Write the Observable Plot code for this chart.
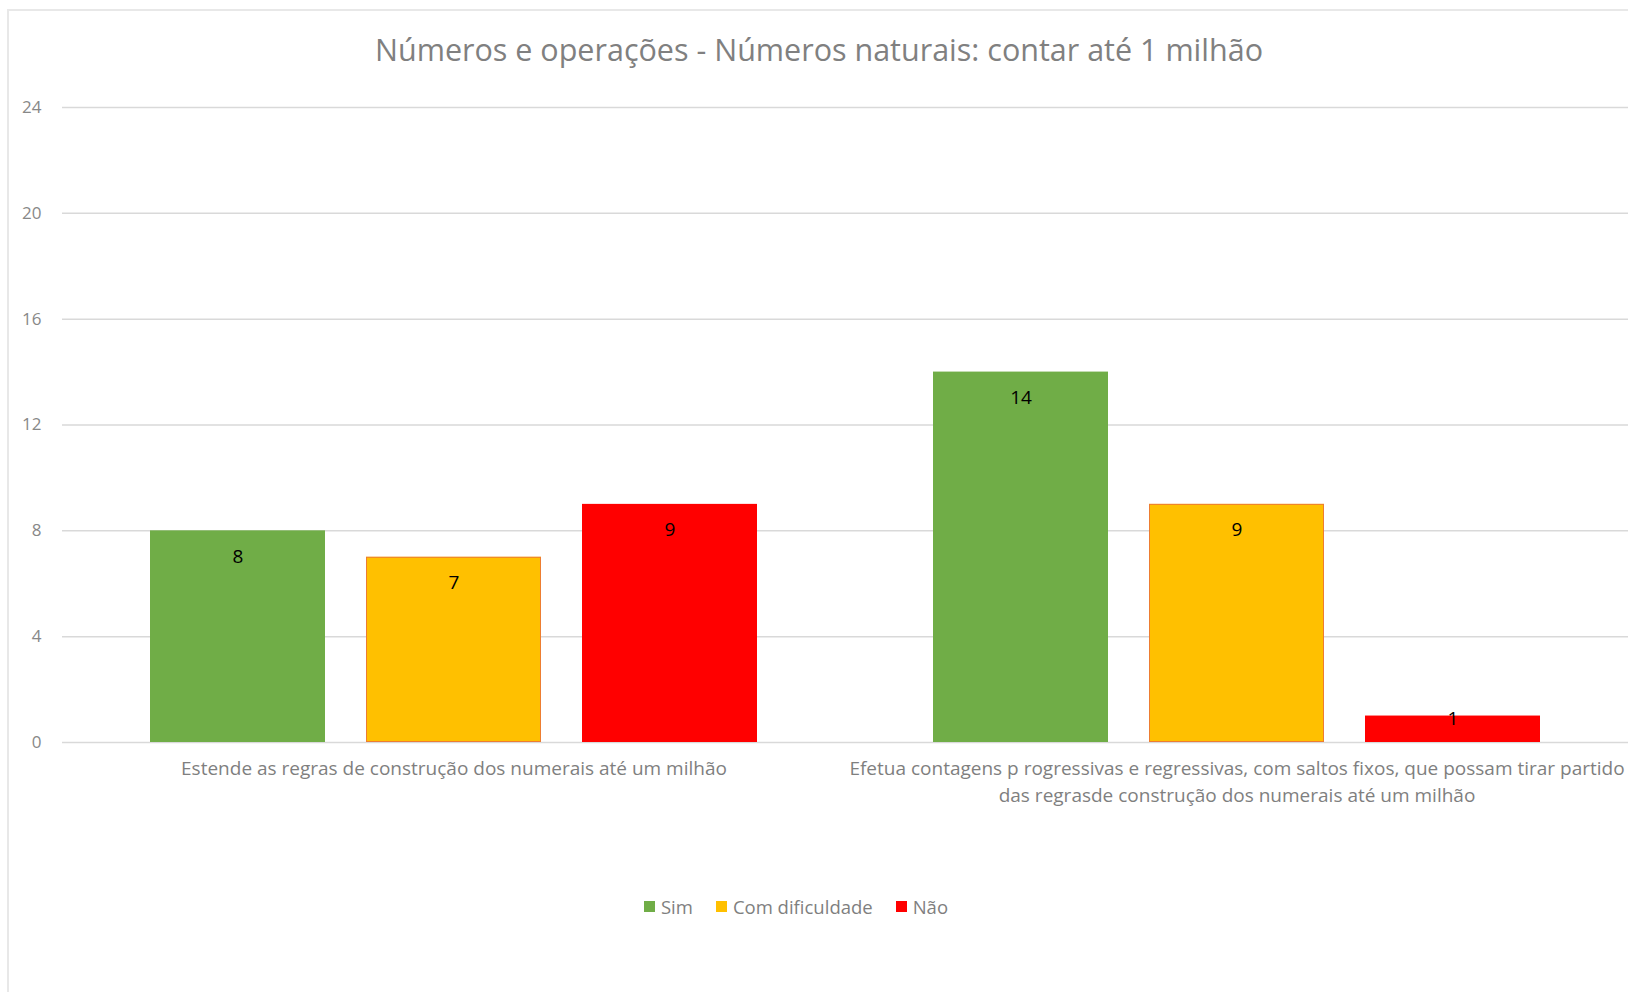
<!DOCTYPE html>
<html>
<head>
<meta charset="utf-8">
<script src="https://cdn.jsdelivr.net/npm/d3@7"></script>
<script src="https://cdn.jsdelivr.net/npm/@observablehq/plot@0.6"></script>
<style>
  html, body { margin: 0; padding: 0; background: #fff; overflow: hidden; }
  body { width: 1628px; height: 992px; position: relative; font-family: "Open Sans", sans-serif; }
  #frame { position: absolute; left: 7px; top: 9px; width: 1700px; height: 1100px; border: 2px solid #e8e8e8; box-sizing: border-box; }
  #title { position: absolute; left: 0; top: 0; width: 1638px; height: 98px; line-height: 98px; text-align: center; font-size: 30.5px; color: #808080; }
  #chart { position: absolute; left: 0; top: 80px; }
  #legend { position: absolute; left: 0; top: 896px; width: 1592px; height: 20px; display: flex; justify-content: center; align-items: center; font-size: 18.5px; color: #7f7f7f; }
  #legend .item { display: flex; align-items: center; margin: 0 11.5px; }
  #legend .sw { width: 11px; height: 11px; margin-right: 6px; }
</style>
</head>
<body>
<div id="frame"></div>
<div id="title">Números e operações - Números naturais: contar até 1 milhão</div>
<div id="chart"></div>
<div id="legend"></div>
<script>
const categories = [
  "Estende as regras de construção dos numerais até um milhão",
  "Efetua contagens p rogressivas e regressivas, com saltos fixos, que possam tirar partido das regrasde construção dos numerais até um milhão"
];
const categoryLabels = [
  "Estende as regras de construção dos numerais até um milhão",
  "Efetua contagens p rogressivas e regressivas, com saltos fixos, que possam tirar partido\ndas regrasde construção dos numerais até um milhão"
];
const seriesNames = ["Sim", "Com dificuldade", "Não"];
const seriesColors = ["#70AD47", "#FFC000", "#FF0000"];
const sim = [8, 14];
const comDificuldade = [7, 9];
const nao = [9, 1];
const yTicks = [0, 4, 8, 12, 16, 20, 24];

const seriesValues = [sim, comDificuldade, nao];
const rows = [];
categories.forEach((c, i) => {
  seriesNames.forEach((s, j) => rows.push({cat: c, series: s, value: seriesValues[j][i]}));
});

const plot = Plot.plot({
  width: 1628,
  height: 752,
  marginLeft: 62,
  marginRight: 0,
  marginTop: 27,
  marginBottom: 90,
  style: {fontFamily: "Open Sans, sans-serif", background: "transparent", overflow: "visible"},
  fx: {domain: categories, padding: 0},
  x: {domain: seriesNames, paddingInner: 0.191, paddingOuter: 0.4, axis: null},
  y: {domain: [0, 24]},
  color: {domain: seriesNames, range: seriesColors},
  marks: [
    Plot.gridY(yTicks, {stroke: "#d9d9d9", strokeOpacity: 1, strokeWidth: 1.5}),
    Plot.axisY(yTicks, {tickSize: 0, tickPadding: 21, fontSize: 17, fill: "#888", label: null}),
    Plot.axisFx({anchor: "bottom", tickSize: 0, tickPadding: 13, fontSize: 19, fill: "#7f7f7f",
      lineHeight: 1.42, label: null,
      tickFormat: d => categoryLabels[categories.indexOf(d)]}),
    Plot.barY(rows, {fx: "cat", x: "series", y: "value", fill: "series"}),
    Plot.barY(rows.filter(d => d.series === "Com dificuldade"),
      {fx: "cat", x: "series", y: "value", fill: "none", stroke: "#ED7D31", strokeWidth: 1, inset: 0.5}),
    Plot.text(rows.filter(d => d.value >= 2),
      {fx: "cat", x: "series", y: "value", text: d => String(d.value), dy: 26, fontSize: 19, fill: "#000"}),
    Plot.text(rows.filter(d => d.value < 2),
      {fx: "cat", x: "series", y: "value", text: d => String(d.value), dy: 3, fontSize: 19, fill: "#000"})
  ]
});
document.getElementById("chart").appendChild(plot);

const legend = document.getElementById("legend");
seriesNames.forEach((s, i) => {
  const item = document.createElement("div");
  item.className = "item";
  const sw = document.createElement("div");
  sw.className = "sw";
  sw.style.background = seriesColors[i];
  const t = document.createElement("span");
  t.textContent = s;
  item.appendChild(sw);
  item.appendChild(t);
  legend.appendChild(item);
});
</script>
</body>
</html>
